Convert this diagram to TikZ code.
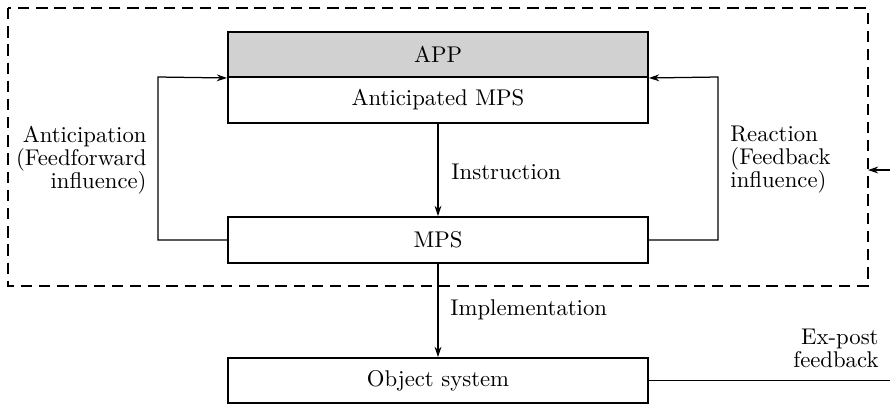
\documentclass[tikz,border=0pt]{standalone}
\usetikzlibrary{arrows.meta}
\begin{document}
\begin{tikzpicture}[x=0.44pt,y=-0.44pt,
  box/.style={draw,line width=0.85pt,minimum width=184.8pt,inner sep=0pt,anchor=center},
  conn/.style={line width=0.55pt},
  arr/.style={conn,-{Stealth[length=4.5pt,width=3pt]}},
  lbl/.style={inner sep=0pt,font=\fontsize{10}{10.1}\selectfont}]
\useasboundingbox (0,0) rectangle (890,405);
\node[box,fill=black!18,minimum height=19.8pt] (app) at (438,54.5) {APP};
\node[box,minimum height=20.2pt] (amps) at (438,100) {Anticipated MPS};
\node[box,minimum height=20.2pt] (mps) at (438,240) {MPS};
\node[box,minimum height=19.8pt] (obj) at (438,380.5) {Object system};
\draw[line width=0.75pt,dash pattern=on 5pt off 3pt] (8,8) rectangle (868,286);
\coordinate (dr) at (868,170);
\draw[arr] (amps.south) -- (mps.north);
\draw[arr] (mps.south) -- (obj.north);
\draw[arr] (mps.west) -| (158,77) -- (app.south west);
\draw[arr] (mps.east) -| (718,77) -- (app.south east);
\coordinate (e1) at (890,380.5);
\coordinate (e2) at (890,170);
\draw[conn] (obj.east) -- (e1);
\draw[arr] (e2) -- (dr);
\node[lbl,anchor=west] at (451,172) {Instruction};
\node[lbl,anchor=west] at (450,310) {Implementation};
\node[lbl,align=right,anchor=east] at (147,160) {Anticipation\\(Feedforward\\influence)};
\node[lbl,align=left,anchor=west] at (730,160) {Reaction\\(Feedback\\influence)};
\node[lbl,align=right,anchor=east] at (879,348) {Ex-post\\feedback};
\end{tikzpicture}
\end{document}
